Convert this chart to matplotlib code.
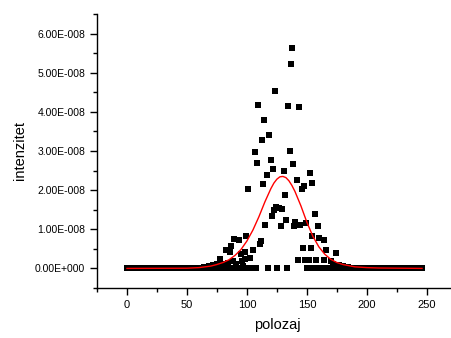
import numpy as np
import matplotlib
matplotlib.use("Agg")
import matplotlib.pyplot as plt
from matplotlib.ticker import FuncFormatter, MultipleLocator

plt.rcParams['font.family'] = ['Liberation Sans', 'DejaVu Sans']

SCALE = 1e-8

# measured points in the peak region (x = polozaj, y in units of 1e-8)
peak_x = [64, 68, 72, 75, 77.8, 80, 82.2, 84, 85.8, 86.4, 88, 89.4, 91, 93.3, 94.7,
          95.6, 97, 98.1, 98.3, 99.4, 100.6, 101, 102.5, 104.7, 106.7, 107.5, 108.6,
          109.4, 110.6, 111.7, 112.5, 113.6, 114.4, 115.3, 116.7, 117.2, 118.6, 119.7,
          120.6, 121.7, 122.8, 123.3, 124.4, 125.5, 126.5, 128.3, 129.4, 130.6, 131.4,
          132.2, 133.6, 134.4, 135.6, 136.7, 137.5, 138.3, 139.2, 140.3, 141.4, 142.5,
          143.6, 144.4, 145.6, 146.4, 147.5, 148.3, 149.2, 150.3, 151.5, 152.5, 153.3,
          154.2, 154.4, 156.4, 157.5, 159.4, 159.7, 161.4, 164.2, 164.4, 165.8, 169.7,
          172, 174.4, 177, 180, 184]
peak_y = [0.03, 0.05, 0.08, 0.12, 0.24, 0.10, 0.47, 0.15, 0.41, 0.57, 0.20, 0.76, 0.10,
          0.73, 0.36, 0.18, 0.05, 0.42, 0.23, 0.84, 2.04, 0.0, 0.26, 0.46, 2.97, 0.0,
          2.69, 4.18, 0.62, 0.71, 3.29, 2.15, 3.79, 1.10, 2.39, 0.0, 3.42, 2.76, 1.33,
          2.53, 1.50, 4.52, 1.56, 0.0, 1.55, 1.08, 1.52, 2.50, 1.87, 1.24, 0.0, 4.16,
          3.00, 5.22, 5.64, 2.68, 1.09, 1.18, 2.27, 0.21, 4.12, 1.10, 2.02, 0.53, 2.11,
          0.21, 1.17, 0.0, 0.21, 2.45, 0.53, 2.19, 0.82, 1.39, 0.22, 1.09, 0.78, 0.0,
          0.22, 0.72, 0.47, 0.18, 0.12, 0.40, 0.08, 0.05, 0.03]

# flat background, all read as zero
base_x = list(range(0, 105)) + list(range(155, 247))
base_y = [0.0] * len(base_x)

# fitted curve
fit_x = [0, 50, 60, 65, 70, 75, 80, 85, 90, 95, 100, 105, 110, 115, 120, 122.5, 125,
         127.5, 130, 132.5, 135, 137.5, 140, 145, 150, 155, 160, 165, 170, 175, 180,
         185, 190, 200, 210, 246]
fit_y = [0, 0.005, 0.02, 0.04, 0.06, 0.10, 0.15, 0.22, 0.33, 0.48, 0.70, 0.98, 1.32,
         1.70, 2.04, 2.18, 2.28, 2.34, 2.35, 2.32, 2.24, 2.12, 1.97, 1.60, 1.18, 0.82,
         0.55, 0.36, 0.23, 0.15, 0.10, 0.07, 0.04, 0.02, 0.01, 0]


def sci_fmt(v, pos):
    if abs(v) < 1e-20:
        return "0.00E+000"
    e = int(np.floor(np.log10(abs(v))))
    m = v / 10**e
    sign = "+" if e >= 0 else "-"
    return "%.2fE%s%03d" % (m, sign, abs(e))


fig = plt.figure(figsize=(4.52, 3.38), dpi=100)
ax = fig.add_axes([0.2146, 0.148, 0.796, 0.8106])

ax.plot(base_x, np.array(base_y) * SCALE, 's', color='black', ms=5, mew=0)
ax.plot(peak_x, np.array(peak_y) * SCALE, 's', color='black', ms=5, mew=0)
ax.plot(fit_x, np.array(fit_y) * SCALE, '-', color='red', lw=1)

ax.set_xlim(-25, 275)
ax.set_ylim(-0.5 * SCALE, 6.5 * SCALE)

ax.xaxis.set_major_locator(MultipleLocator(50))
ax.xaxis.set_minor_locator(MultipleLocator(25))
ax.yaxis.set_major_locator(MultipleLocator(1e-8))
ax.yaxis.set_minor_locator(MultipleLocator(0.5e-8))
ax.yaxis.set_major_formatter(FuncFormatter(sci_fmt))

for s in ['top', 'right']:
    ax.spines[s].set_visible(False)
for s in ['left', 'bottom']:
    ax.spines[s].set_linewidth(1)

ax.tick_params(which='major', direction='out', length=5, width=1, labelsize=7.5)
ax.tick_params(which='minor', direction='out', length=3, width=1)
ax.tick_params(axis='x', labelsize=8)

ax.set_xlabel("polozaj", fontsize=10.5, labelpad=6)
ax.set_ylabel("intenzitet", fontsize=10.5, labelpad=6)

fig.savefig("out.png", dpi=100)
